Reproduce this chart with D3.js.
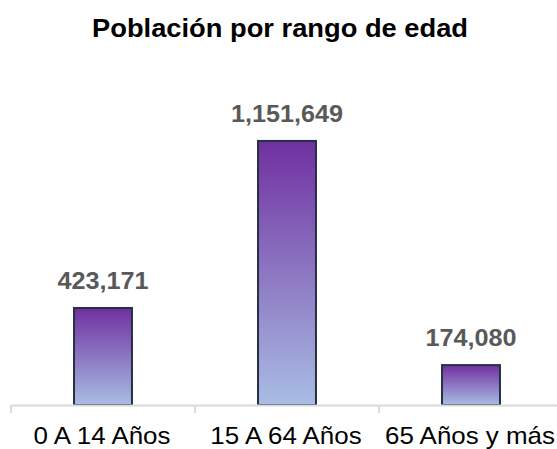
<!DOCTYPE html>
<html>
<head>
<meta charset="utf-8">
<script src="https://cdnjs.cloudflare.com/ajax/libs/d3/7.8.5/d3.min.js"></script>
<style>
  body { margin: 0; background: #fff; }
  svg { display: block; font-family: "Liberation Sans", Arial, sans-serif; }
</style>
</head>
<body>
<svg id="chart" width="557" height="449"></svg>
<script>
var categories = ["0 A 14 Años", "15 A 64 Años", "65 Años y más"];
var values = [423171, 1151649, 174080];
var title = "Población por rango de edad";

var svg = d3.select("#chart");
var baseY = 405;

// scales
var x = d3.scaleBand().domain(categories).range([11, 563]);
var y = d3.scaleLinear().domain([0, 1400000]).range([baseY, 84]);
var barW = x.bandwidth() * 0.315;
function cx(c) { return x(c) + x.bandwidth() / 2; }

// gradient purple -> light blue, per bar
var defs = svg.append("defs");
var grad = defs.append("linearGradient")
  .attr("id", "barGrad")
  .attr("x1", 0).attr("y1", 0).attr("x2", 0).attr("y2", 1);
grad.append("stop").attr("offset", "0%").attr("stop-color", "#7030a0");
grad.append("stop").attr("offset", "100%").attr("stop-color", "#a9bde4");

// title
svg.append("text")
  .attr("transform", "translate(280,37) scale(1.03,1)")
  .attr("text-anchor", "middle")
  .style("font-size", "26.5px").style("font-weight", "bold")
  .attr("fill", "#000")
  .text(title);

// bars
svg.selectAll(".bar").data(values).enter().append("rect")
  .attr("class", "bar")
  .attr("x", function(d, i) { return cx(categories[i]) - barW / 2; })
  .attr("y", function(d) { return y(d); })
  .attr("width", barW)
  .attr("height", function(d) { return baseY - y(d); })
  .attr("fill", "url(#barGrad)")
  .attr("stroke", "#262f45")
  .attr("stroke-width", 2);

// x axis
var axis = svg.append("g")
  .attr("transform", "translate(0," + baseY + ")")
  .call(d3.axisBottom(x).tickSize(0).tickFormat(""));
axis.select(".domain").attr("stroke", "#d9d9d9").attr("stroke-width", 2);
var edges = [11].concat(categories.map(function(c) { return x(c) + x.bandwidth(); }));
svg.selectAll(".tick-line").data(edges).enter().append("line")
  .attr("x1", function(d) { return d; }).attr("x2", function(d) { return d; })
  .attr("y1", baseY).attr("y2", baseY + 8)
  .attr("stroke", "#d9d9d9").attr("stroke-width", 2);

// category labels
svg.selectAll(".cat").data(categories).enter().append("text")
  .attr("transform", function(d) { return "translate(" + (cx(d) - 1) + ",444) scale(1.08,1)"; })
  .attr("text-anchor", "middle")
  .style("font-size", "24px")
  .attr("fill", "#000")
  .text(function(d) { return d; });

// value labels
svg.selectAll(".val").data(values).enter().append("text")
  .attr("transform", function(d, i) { return "translate(" + cx(categories[i]) + "," + (y(d) - 19) + ") scale(1.05,1)"; })
  .attr("text-anchor", "middle")
  .style("font-size", "24px").style("font-weight", "bold")
  .attr("fill", "#595959")
  .text(function(d) { return d3.format(",")(d); });
</script>
</body>
</html>
